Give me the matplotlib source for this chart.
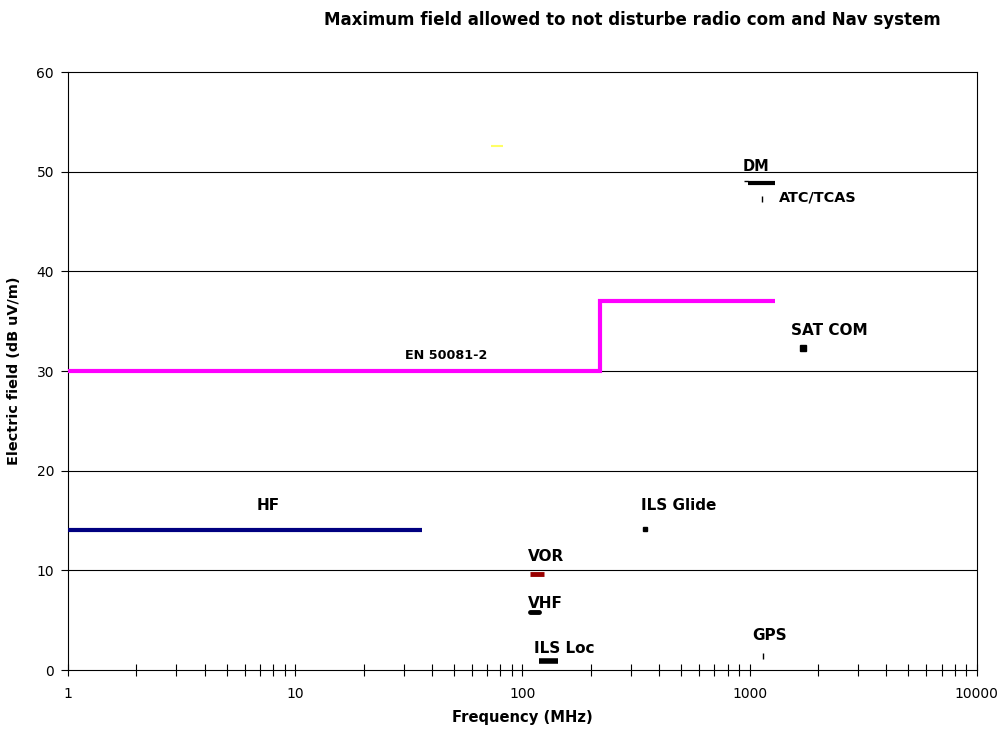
import matplotlib
matplotlib.use("Agg")
import matplotlib.pyplot as plt
from matplotlib.ticker import FixedLocator, FixedFormatter, LogLocator, NullFormatter

plt.rcParams['font.family'] = ['DejaVu Sans']

# ---- data ----
en_freq = [1, 220, 220, 1290]
en_level = [30, 30, 37, 37]

hf_freq = [1, 36]
hf_level = [14, 14]

marker_freq = [73, 82]
marker_level = [52.6, 52.6]

dm_freq = [982, 1290]
dm_level = [48.9, 48.9]

vor_freq = [108, 124]
vor_level = [9.6, 9.6]

vhf_freq = [108, 118]
vhf_level = [5.8, 5.8]

ilsloc_freq = [118, 143]
ilsloc_level = [0.9, 0.9]

glide_freq = [346]
glide_level = [14.1]

satcom_freq = [1715]
satcom_level = [32.3]

atc_freq = [1136]
atc_level = [47.3]

gps_freq = [1140]
gps_level = [1.4]

xticks = [1, 10, 100, 1000, 10000]
xtick_labels = ["1", "10", "100", "1000", "10000"]
yticks = [0, 10, 20, 30, 40, 50, 60]

fig = plt.figure(figsize=(10.07, 7.35), dpi=100)
ax = fig.add_axes([0.0675, 0.0884, 0.9025, 0.8136])

ax.set_xscale('log')
ax.set_xlim(1, 10000)
ax.set_ylim(0, 60)

for y in yticks[1:-1]:
    ax.axhline(y, color='black', lw=0.8, zorder=1)

ax.plot(en_freq, en_level, color='#FF00FF', lw=3, solid_capstyle='butt', solid_joinstyle='miter', zorder=3)
ax.plot(hf_freq, hf_level, color='#000080', lw=3, solid_capstyle='butt', zorder=3)
ax.plot(marker_freq, marker_level, color='#FFFF66', lw=1.5, solid_capstyle='butt', zorder=3)
ax.plot(dm_freq, dm_level, color='black', lw=3, solid_capstyle='butt', zorder=3)
ax.plot([944, 982], [49.1, 49.1], color='black', lw=1, solid_capstyle='butt', zorder=3)
ax.plot(vor_freq, vor_level, color='#990000', lw=3.5, solid_capstyle='butt', zorder=3)
ax.plot(vhf_freq, vhf_level, color='black', lw=3.5, solid_capstyle='round', zorder=3)
ax.plot(ilsloc_freq, ilsloc_level, color='black', lw=4, solid_capstyle='butt', zorder=3)
ax.plot(glide_freq, glide_level, 's', color='black', ms=3.5, zorder=3)
ax.plot(satcom_freq, satcom_level, 's', color='black', ms=4, zorder=3)
ax.plot(atc_freq, atc_level, '|', color='black', ms=4, mew=1, zorder=3)
ax.plot(gps_freq, gps_level, '|', color='black', ms=4, mew=1, zorder=3)

lfs = 11
bold = dict(fontweight='bold', fontsize=lfs, ha='center', va='center')
ax.text(7.63, 16.55, 'HF', **bold)
ax.text(46.1, 31.6, 'EN 50081-2', fontweight='bold', fontsize=9.2, ha='center', va='center')
ax.text(486, 16.55, 'ILS Glide', **bold)
ax.text(127.5, 11.44, 'VOR', **bold)
ax.text(125.6, 6.72, 'VHF', **bold)
ax.text(153, 2.2, 'ILS Loc', **bold)
ax.text(1228, 3.5, 'GPS', **bold)
ax.text(2233, 34.1, 'SAT COM', **bold)
ax.text(1071, 50.57, 'DM', fontweight='bold', fontsize=10.5, ha='center', va='center')
ax.text(1986, 47.39, 'ATC/TCAS', fontweight='bold', fontsize=10.4, ha='center', va='center')

tfs = 10
ax.xaxis.set_major_locator(FixedLocator(xticks))
ax.xaxis.set_major_formatter(FixedFormatter(xtick_labels))
ax.xaxis.set_minor_locator(LogLocator(base=10, subs=range(2, 10)))
ax.xaxis.set_minor_formatter(NullFormatter())
ax.set_yticks(yticks)

ax.tick_params(axis='x', which='major', direction='inout', length=8, width=0.8, labelsize=tfs, pad=8)
ax.tick_params(axis='x', which='minor', direction='inout', length=8, width=0.8)
ax.tick_params(axis='y', which='major', direction='out', length=5, width=0.8, labelsize=tfs, pad=5)

for s in ax.spines.values():
    s.set_linewidth(0.8)
    s.set_color('black')

ax.set_xlabel('Frequency (MHz)', fontweight='bold', fontsize=10.6, labelpad=7)
ax.set_ylabel('Electric field (dB uV/m)', fontweight='bold', fontsize=10.4, labelpad=11)

fig.text(0.628, 0.973, 'Maximum field allowed to not disturbe radio com and Nav system',
         fontweight='bold', fontsize=12, ha='center', va='center')

fig.savefig('out.png', dpi=100)
